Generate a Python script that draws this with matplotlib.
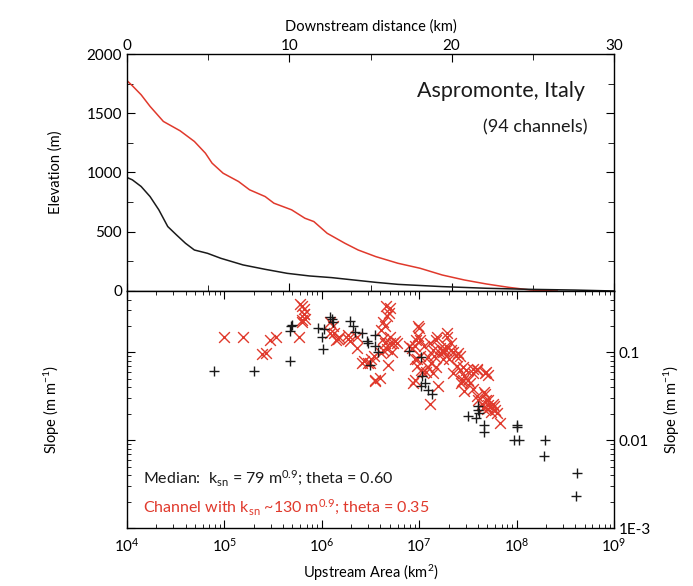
import numpy as np
import matplotlib.pyplot as plt
from matplotlib.ticker import FixedLocator, FixedFormatter, LogLocator, NullFormatter

plt.rcParams['font.family'] = ['Lato', 'DejaVu Sans']
plt.rcParams['mathtext.fontset'] = 'custom'
plt.rcParams['mathtext.rm'] = 'Lato'
plt.rcParams['mathtext.it'] = 'Lato:italic'
plt.rcParams['mathtext.bf'] = 'Lato:bold'

RED = '#e0392c'
BLK = '#1a1a1a'

# --- long profiles (downstream distance km, elevation m)
red_dist = [0, 0.33, 0.87, 1.42, 2.24, 3.27, 4.15, 4.83, 5.24, 5.92, 6.87, 7.55, 8.51,
            9.05, 10.14, 10.96, 11.51, 12.33, 13.42, 14.24, 15.33, 16.69, 18.05, 19.42,
            20.78, 22.15, 23.51, 24.87, 26.5]
red_elev = [1775, 1732, 1656, 1558, 1431, 1352, 1262, 1163, 1079, 994, 924, 854, 797,
            741, 685, 614, 586, 487, 403, 346, 290, 234, 192, 135,
            93, 59, 31, 8, 0]

blk_dist = [0, 0.33, 0.87, 1.42, 1.96, 2.51, 3.05, 3.6, 4.15, 4.96, 5.78, 7.15, 8.51,
            9.87, 11.24, 12.6, 13.96, 15.33, 16.69, 19.42, 22.15, 24.87, 27.6, 30]
blk_elev = [958, 938, 882, 797, 685, 544, 473, 403, 346, 318, 276, 220, 183,
            149, 127, 113, 93, 73, 56, 37, 23, 14, 8, 0]

# --- slope-area data (upstream area, slope)
blk_area = [7.9e4, 2.0e5, 4.7e5, 4.7e5, 4.8e5, 5.0e5, 1.02e6, 1.0e6, 9.1e5, 1.05e6,
            1.2e6, 1.26e6, 1.3e6, 1.95e6, 2.1e6, 2.2e6, 2.6e6, 2.9e6, 3.0e6, 3.5e6,
            3.5e6, 3.8e6, 3.1e6, 7.9e6, 1.05e7, 1.07e7, 1.15e7, 1.05e7, 1.23e7, 1.35e7,
            3.2e7, 3.8e7, 4.0e7, 4.0e7, 4.1e7, 4.6e7, 4.6e7, 1.0e8, 1.02e8, 9.5e7,
            1.05e8, 1.95e8, 1.9e8, 4.2e8, 4.1e8]
blk_slope = [0.062, 0.062, 0.080, 0.174, 0.20, 0.205, 0.11, 0.15, 0.19, 0.185,
             0.25, 0.237, 0.22, 0.226, 0.20, 0.17, 0.166, 0.135, 0.128, 0.158,
             0.117, 0.102, 0.072, 0.105, 0.089, 0.054, 0.045, 0.041, 0.037, 0.034,
             0.019, 0.018, 0.0245, 0.022, 0.0205, 0.0148, 0.0123, 0.0148, 0.014, 0.010,
             0.010, 0.010, 0.0066, 0.0042, 0.0023]

red_area = [1.0e5, 1.55e5, 2.45e5, 2.7e5, 2.95e5, 3.4e5, 5.9e5, 6.2e5, 6.3e5, 6.5e5,
            6.5e5, 1.3e6, 1.4e6, 1.2e6, 1.5e6, 1.85e6, 1.95e6, 2.3e6, 2.6e6, 3.0e6,
            3.4e6, 3.5e6, 4.1e6, 4.3e6, 4.5e6, 4.6e6, 4.9e6, 5.0e6, 5.4e6, 5.6e6,
            4.3e6, 4.1e6, 7.9e6, 9.1e6, 9.8e6, 1.02e7, 1.05e7, 8.7e6, 1.3e7, 1.23e7,
            1.38e7, 1.5e7, 1.62e7, 1.9e7, 1.0e7, 9.3e6, 8.5e6, 9.6e6, 1.17e7, 1.32e7,
            1.43e7, 1.49e7, 1.62e7, 1.74e7, 1.9e7, 1.95e7, 2.04e7, 2.1e7, 2.2e7, 1.38e7,
            1.55e7, 2.4e7, 2.5e7, 2.6e7, 2.7e7, 2.8e7, 2.8e7, 3.0e7, 3.2e7, 3.3e7,
            3.55e7, 2.9e7, 3.9e7, 4.7e7, 3.9e7, 4.0e7, 4.4e7, 4.5e7, 4.7e7, 4.9e7,
            5.1e7, 5.3e7, 5.5e7, 5.7e7, 6.0e7, 6.7e7, 5.1e7, 1.74e7, 1.22e7, 3.2e6,
            6.0e5, 6.5e5, 6.2e5, 6.8e5,
            1.22e6, 1.32e6, 1.48e6, 1.86e6, 2.3e6, 2.7e6, 3.16e6, 3.5e6, 4.0e6, 4.5e6,
            4.7e6, 5.0e6, 4.3e6, 4.7e6, 5.2e6, 5.9e6, 4.8e6, 5.0e6, 9.8e6, 9.1e6,
            1.02e7, 9.5e6, 1.07e7,
            1.12e7, 1.29e7, 1.51e7, 1.95e7, 2.1e7, 1.78e7, 2.24e7, 2.6e7, 2.45e7, 2.9e7,
            2.75e7, 3.6e7, 3.9e7, 4.8e7, 3.6e7, 4.6e7, 5.1e7, 5.8e7, 6.3e7, 5.0e7, 9.1e6]
red_slope = [0.15, 0.148, 0.095, 0.098, 0.138, 0.15, 0.15, 0.234, 0.34, 0.31,
             0.27, 0.20, 0.14, 0.166, 0.15, 0.158, 0.134, 0.15, 0.076, 0.076,
             0.090, 0.047, 0.18, 0.22, 0.128, 0.34, 0.28, 0.15, 0.128, 0.134,
             0.107, 0.098, 0.117, 0.083, 0.20, 0.14, 0.063, 0.045, 0.026, 0.089,
             0.107, 0.069, 0.098, 0.107, 0.19, 0.14, 0.112, 0.083, 0.060, 0.076,
             0.090, 0.14, 0.112, 0.102, 0.117, 0.15, 0.083, 0.107, 0.058, 0.058,
             0.041, 0.090, 0.098, 0.063, 0.045, 0.049, 0.069, 0.063, 0.049, 0.045,
             0.058, 0.036, 0.063, 0.058, 0.032, 0.029, 0.026, 0.023, 0.034, 0.029,
             0.025, 0.024, 0.021, 0.026, 0.022, 0.0155, 0.055, 0.083, 0.069, 0.083,
             0.355, 0.27, 0.22, 0.24,
             0.219, 0.168, 0.141, 0.141, 0.113, 0.079, 0.076, 0.049, 0.051, 0.20,
             0.26, 0.32, 0.141, 0.108, 0.10, 0.129, 0.072, 0.129, 0.155, 0.117,
             0.091, 0.070, 0.059,
             0.117, 0.129, 0.148, 0.168, 0.129, 0.104, 0.10, 0.091, 0.070, 0.054,
             0.047, 0.065, 0.065, 0.059, 0.038, 0.035, 0.029, 0.0245, 0.0204, 0.0224, 0.049]

fig = plt.figure(figsize=(6.93, 5.86), dpi=100)
L, R = 127 / 693, 614 / 693
ax1 = fig.add_axes([L, 1 - 291 / 586, R - L, 237 / 586])
ax2 = fig.add_axes([L, 1 - 528 / 586, R - L, 237 / 586])

# top panel
ax1.plot(red_dist, red_elev, color=RED, lw=1.1)
ax1.plot(blk_dist, blk_elev, color=BLK, lw=1.1)
ax1.set_xlim(0, 30)
ax1.set_ylim(0, 2000)
ax1.xaxis.tick_top()
ax1.xaxis.set_label_position('top')
ax1.set_xticks([0, 10, 20, 30])
ax1.set_xticks([5, 15, 25], minor=True)
ax1.set_yticks([0, 500, 1000, 1500, 2000])
ax1.set_yticks([250, 750, 1250, 1750], minor=True)
ax1.tick_params(axis='x', which='both', top=True, bottom=True, direction='in',
                labelsize=11, pad=1)
ax1.tick_params(axis='x', which='major', length=6)
ax1.tick_params(axis='x', which='minor', length=4)
ax1.tick_params(axis='y', which='both', left=True, right=True, direction='in',
                labelsize=11)
ax1.tick_params(axis='y', which='major', length=6)
ax1.tick_params(axis='y', which='minor', length=4)
ax1.set_xlabel('Downstream distance (km)', fontsize=10.5, labelpad=6)
ax1.set_ylabel('Elevation (m)', fontsize=10.5)
ax1.yaxis.set_label_coords(-0.133, 0.5)
ax1.text(0.94, 0.82, 'Aspromonte, Italy', transform=ax1.transAxes, ha='right',
         va='baseline', fontsize=15.5, color=BLK)
ax1.text(0.945, 0.667, '(94 channels)', transform=ax1.transAxes, ha='right',
         va='baseline', fontsize=13, color=BLK)

# bottom panel
ax2.scatter(red_area, red_slope, marker='x', s=60, color=RED, linewidths=1.0, zorder=2)
ax2.scatter(blk_area, blk_slope, marker='+', s=45, color=BLK, linewidths=1.0, zorder=3)
ax2.set_xscale('log')
ax2.set_yscale('log')
ax2.set_xlim(1e4, 1e9)
ax2.set_ylim(1e-3, 0.5)
ax2.xaxis.set_major_locator(LogLocator(base=10, numticks=10))
ax2.xaxis.set_minor_locator(LogLocator(base=10, subs=np.arange(2, 10), numticks=20))
ax2.yaxis.set_major_locator(FixedLocator([1e-3, 1e-2, 1e-1]))
ax2.yaxis.set_major_formatter(FixedFormatter(['1E-3', '0.01', '0.1']))
ax2.yaxis.set_minor_locator(LogLocator(base=10, subs=np.arange(2, 10), numticks=20))
ax2.yaxis.set_minor_formatter(NullFormatter())
ax2.tick_params(which='both', direction='in', top=True, bottom=True, left=True,
                right=True, labelleft=False, labelright=True, labelsize=11)
ax2.tick_params(which='major', length=6)
ax2.tick_params(which='minor', length=3)
ax2.tick_params(axis='x', which='major', pad=6)
ax2.set_xlabel('Upstream Area (km$^{2}$)', fontsize=10.5, labelpad=6)
ax2.set_ylabel('Slope (m m$^{-1}$)', fontsize=10.5)
ax2.yaxis.set_label_coords(-0.133, 0.5)
fig.text(672 / 693, 1 - 410 / 586, 'Slope (m m$^{-1}$)', rotation=90, ha='center',
         va='center', fontsize=10.5)
ax2.text(0.033, 0.19, r'Median:  k$_{\mathregular{sn}}$ = 79 m$^{\mathregular{0.9}}$; theta = 0.60',
         transform=ax2.transAxes, va='baseline', fontsize=11.5, color=BLK)
ax2.text(0.033, 0.068, r'Channel with k$_{\mathregular{sn}}$ ~130 m$^{\mathregular{0.9}}$; theta = 0.35',
         transform=ax2.transAxes, va='baseline', fontsize=11.5, color=RED)

for ax in (ax1, ax2):
    for s in ax.spines.values():
        s.set_linewidth(1.0)

fig.savefig('out.png', dpi=100)
